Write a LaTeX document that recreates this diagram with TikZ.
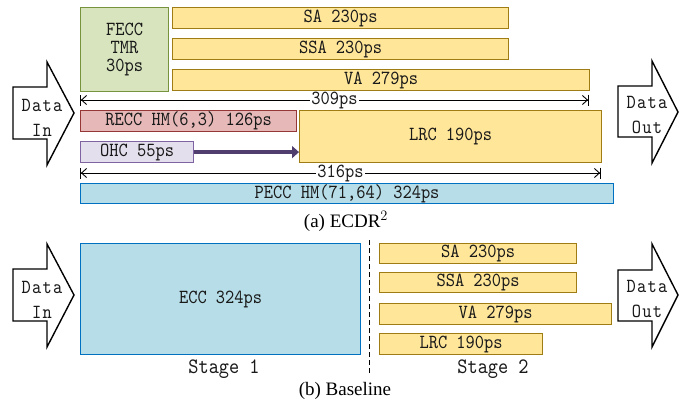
\documentclass[tikz,border=0pt]{standalone}
\usepackage{fontspec}
\setmainfont{Liberation Serif}
\newfontfamily\monof{lmmono10-regular.otf}[FakeStretch=0.88]
\usetikzlibrary{arrows.meta}
\definecolor{yfill}{HTML}{FFE699}
\definecolor{ydraw}{RGB}{160,125,20}
\definecolor{gfill}{HTML}{D7E4BD}
\definecolor{gdraw}{HTML}{77933C}
\definecolor{rfill}{HTML}{E6B9B8}
\definecolor{rdraw}{HTML}{953735}
\definecolor{lfill}{HTML}{E4DFEC}
\definecolor{ldraw}{HTML}{8064A2}
\definecolor{parrow}{RGB}{80,62,110}
\definecolor{bfill}{HTML}{B7DEE8}
\definecolor{bdraw}{HTML}{0070C0}
\begin{document}
\begin{tikzpicture}[x=1pt,y=-1pt,
  box/.style={draw, line width=1.2pt, inner sep=0pt, anchor=north west, align=center,
    font=\monof\fontsize{20}{18}\selectfont, text=black!90},
  ybox/.style={box, fill=yfill, draw=ydraw},
  gbox/.style={box, fill=gfill, draw=gdraw},
  rbox/.style={box, fill=rfill, draw=rdraw},
  lbox/.style={box, fill=lfill, draw=ldraw},
  bbox/.style={box, fill=bfill, draw=bdraw},
  bigarrow/.style={draw, line width=1.4pt, fill=white, line join=miter},
  arrowtext/.style={align=center, inner sep=0pt, text=black!90,
    font=\monof\fontsize{20}{25}\selectfont\addfontfeature{LetterSpace=6}},
  dim/.style={line width=0.9pt, {Bar[width=11pt]Straight Barb[length=5pt,width=9pt]}-{Straight Barb[length=5pt,width=9pt]Bar[width=11pt]}},
  dimlabel/.style={fill=white, inner sep=1pt, font=\monof\fontsize{20}{20}\selectfont, text=black!90},
  stagelabel/.style={anchor=base, inner sep=0pt, font=\monof\fontsize{22}{22}\selectfont, text=black!90},
  caption/.style={anchor=base, inner sep=0pt, font=\fontsize{19}{19}\selectfont}
]
\useasboundingbox (0,0) rectangle (692,404);

% ---------- (a) ECDR^2 ----------
\draw[bigarrow] (13,87) -- (47,87) -- (47,62) -- (74,113) -- (47,165) -- (47,139) -- (13,139) -- cycle;
\node[arrowtext] (inA) at (42,118) {Data\\In};
\draw[bigarrow] (618,86) -- (652,86) -- (652,61) -- (678,112) -- (652,163) -- (652,137) -- (618,137) -- cycle;
\node[arrowtext] (outA) at (647,115) {Data\\Out};

\node[gbox, minimum width=88pt, minimum height=84pt] (fecc) at (80,7) {FECC\\TMR\\30ps};
\node[ybox, minimum width=336pt, minimum height=21pt] (sa) at (172,7) {SA 230ps};
\node[ybox, minimum width=336pt, minimum height=21pt] (ssa) at (172,38) {SSA 230ps};
\node[ybox, minimum width=417pt, minimum height=21pt] (va) at (172,69) {VA 279ps};

\coordinate (d1a) at (80,100);
\coordinate (d1b) at (589,100);
\draw[dim] (d1a) -- (d1b) node[midway, dimlabel] (l309) {309ps};

\node[rbox, minimum width=216pt, minimum height=21pt] (recc) at (80,110) {RECC HM(6,3) 126ps};
\node[ybox, minimum width=302pt, minimum height=52pt] (lrc) at (299,110) {LRC 190ps};
\node[lbox, minimum width=113pt, minimum height=21pt] (ohc) at (80,141) {OHC 55ps};
\draw[parrow, line width=4pt, -{Triangle[length=7pt,width=12pt]}] (ohc.east) -- (ohc.east -| lrc.west);

\coordinate (d2a) at (80,173);
\coordinate (d2b) at (601,173);
\draw[dim] (d2a) -- (d2b) node[midway, dimlabel] (l316) {316ps};

\node[bbox, minimum width=533pt, minimum height=20pt] (pecc) at (80,183) {PECC HM(71,64) 324ps};
\node[caption] (capa) at (346,227) {(a) ECDR$^{2}$};

% ---------- (b) Baseline ----------
\draw[bigarrow] (13,269) -- (47,269) -- (47,244) -- (74,295) -- (47,347) -- (47,321) -- (13,321) -- cycle;
\node[arrowtext] (inB) at (42,300) {Data\\In};
\draw[bigarrow] (618,270) -- (652,270) -- (652,244) -- (678,295) -- (652,347) -- (652,321) -- (618,321) -- cycle;
\node[arrowtext] (outB) at (647,299) {Data\\Out};

\node[bbox, minimum width=280pt, minimum height=111pt] (ecc) at (80,243) {ECC 324ps};
\coordinate (dashtop) at (369,240);
\coordinate (dashbot) at (369,373);
\draw[line width=1pt, dash pattern=on 5pt off 3pt] (dashtop) -- (dashbot);

\node[ybox, minimum width=197pt, minimum height=20pt] (sa2) at (379,243) {SA 230ps};
\node[ybox, minimum width=197pt, minimum height=20pt] (ssa2) at (379,272) {SSA 230ps};
\node[ybox, minimum width=232pt, minimum height=21pt] (va2) at (379,303) {VA 279ps};
\node[ybox, minimum width=163pt, minimum height=21pt] (lrc2) at (379,333) {LRC 190ps};

\node[stagelabel] (st1) at (224,373) {Stage 1};
\node[stagelabel] (st2) at (493,373) {Stage 2};
\node[caption] (capb) at (345,395) {(b) Baseline};
\end{tikzpicture}
\end{document}
